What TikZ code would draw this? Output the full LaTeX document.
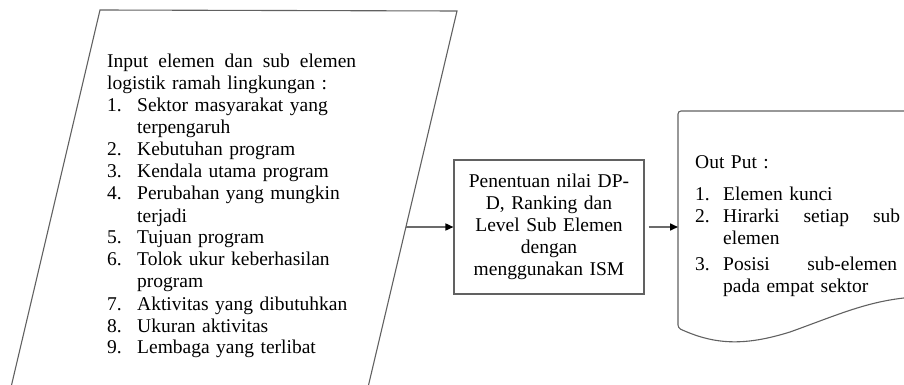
\documentclass[tikz,border=0pt]{standalone}
\usepackage{fontspec}
\setmainfont{Liberation Serif}
\usetikzlibrary{arrows.meta,calc}

% numbered entry: number in a fixed column, later lines hang under the text
\newcommand{\numline}[3]{\par\noindent\hangindent=#1\hangafter=1
  \makebox[#1][l]{#2}#3}

\begin{document}
\begin{tikzpicture}[x=1pt,y=-1pt,
  outline/.style={draw=black!62, line width=1.1pt},
  link/.style={draw=black!58, line width=1.6pt,
    -{Triangle[length=8pt,width=7pt,color=black]}},
  body/.style={font=\fontsize{19.5}{22}\selectfont, inner sep=0pt}]

\useasboundingbox (0,0) rectangle (904,385);

\begin{scope}
  \clip (0,0) rectangle (904,385);
  % input parallelogram (runs past the lower edge)
  \draw[outline] (8,400) -- (100,10) -- (457,11) -- (365,400) -- cycle;
  % output document shape (runs past the right edge)
  \draw[outline, rounded corners=3pt] (930,111) -- (678,111) -- (678,328)
    [sharp corners] .. controls (715,345) and (745,346) .. (790,332)
    .. controls (840,314) and (870,300) .. (915,297);
\end{scope}

% input text
\node[body, anchor=base west, text width=260pt] (input) at (107,68) {%
  \raggedright
  \makebox[249pt][l]{Input\hfill elemen\hfill dan\hfill sub\hfill elemen}\par\noindent
  logistik ramah lingkungan :
  \numline{30pt}{1.}{Sektor masyarakat yang\newline terpengaruh}
  \numline{30pt}{2.}{Kebutuhan program}
  \numline{30pt}{3.}{Kendala utama program}
  \numline{30pt}{4.}{Perubahan yang mungkin\newline terjadi}
  \numline{30pt}{5.}{Tujuan program}
  \numline{30pt}{6.}{Tolok ukur keberhasilan\newline program}
  \numline{30pt}{7.}{Aktivitas yang dibutuhkan}
  \numline{30pt}{8.}{Ukuran aktivitas}
  \numline{30pt}{9.}{Lembaga yang terlibat}\par};

% process box
\node[body, outline, minimum width=190pt, minimum height=134pt,
      text width=180pt, align=center] (proc) at (549,227)
  {Penentuan nilai DP-\\D, Ranking dan\\Level Sub Elemen\\dengan\\menggunakan ISM};

% output text
\node[body, anchor=base west, text width=206pt] (output) at (695,168) {%
  \raggedright
  Out Put :\par\vspace{10pt}
  \numline{28pt}{1.}{Elemen kunci}
  \numline{28pt}{2.}{\makebox[177pt][l]{Hirarki\hfill setiap\hfill sub}\newline elemen}\par\vspace{4pt}
  \numline{28pt}{3.}{\makebox[174pt][l]{Posisi\hfill sub-elemen}\newline pada empat sektor}\par};

% connector end points on the shape outlines
\coordinate (inedge) at (406,227);
\coordinate (docedge) at (678,227);

\draw[link] (inedge) -- (proc.west);
\draw[link, shorten <=4pt] (proc.east) -- (docedge);
\end{tikzpicture}
\end{document}
